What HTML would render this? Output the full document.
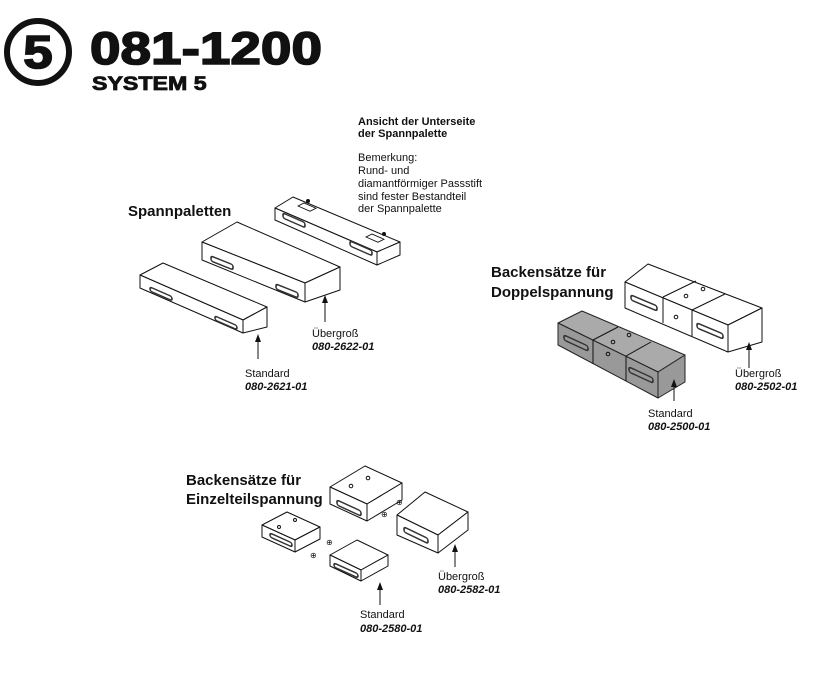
<!DOCTYPE html>
<html><head><meta charset="utf-8"><style>
html,body{margin:0;padding:0;background:#fff;}
svg{display:block;}
text{font-family:"Liberation Sans",Arial,sans-serif;fill:#111;}
.b{font-weight:bold;}
.bi{font-weight:bold;font-style:italic;}
.s{font-size:11px;}
.h{font-size:15px;font-weight:bold;}
.f{fill:#fff;stroke:#111;stroke-width:1;stroke-linejoin:round;}
.g{fill:#aaa;stroke:#222;stroke-width:1;stroke-linejoin:round;}
.g2{fill:#999;stroke:#222;stroke-width:1;stroke-linejoin:round;}
.sl{fill:none;stroke:#333;stroke-width:1.6;}
.ln{stroke:#111;stroke-width:1;fill:none;}
.hv{stroke:#111;stroke-width:1.6;}
</style></head><body>
<svg width="839" height="693" viewBox="0 0 839 693" xmlns="http://www.w3.org/2000/svg">
<!-- header -->
<circle cx="38" cy="52" r="31" fill="none" stroke="#111" stroke-width="6"/>
<text x="0" y="0" class="hv" transform="translate(38,68) scale(1.15,1)" text-anchor="middle" style="font-size:46px;font-weight:bold">5</text>
<text x="0" y="0" class="hv" transform="translate(90,64) scale(1.22,1)" style="font-size:45px;font-weight:bold">081-1200</text>
<text x="0" y="0" transform="translate(92,90) scale(1.22,1)" style="font-size:19px;font-weight:bold;stroke:#111;stroke-width:0.8">SYSTEM 5</text>

<!-- notes -->
<text x="358" y="125" class="s b">Ansicht der Unterseite</text>
<text x="358" y="137" class="s b">der Spannpalette</text>
<text x="358" y="161" class="s">Bemerkung:</text>
<text x="358" y="174" class="s">Rund- und</text>
<text x="358" y="187" class="s">diamantförmiger Passstift</text>
<text x="358" y="200" class="s">sind fester Bestandteil</text>
<text x="358" y="212" class="s">der Spannpalette</text>

<text x="128" y="216" class="h">Spannpaletten</text>

<!-- underside pallet -->
<polygon class="f" points="275,208 293,197 400,242 377,252"/>
<polygon class="f" points="275,208 377,252 377,265 275,220"/>
<polygon class="f" points="377,252 400,242 400,255 377,265"/>
<rect class="sl" x="0" y="0" width="22" height="5" rx="2" transform="matrix(1,0.437,0,1,283,213)"/>
<rect class="sl" x="0" y="0" width="22" height="5" rx="2" transform="matrix(1,0.437,0,1,350,241)"/>
<rect class="ln" x="0" y="0" width="12" height="6" transform="matrix(1,0.437,-1,0.5,304,203)" fill="#fff"/>
<rect class="ln" x="0" y="0" width="12" height="6" transform="matrix(1,0.437,-1,0.5,372,234)" fill="#fff"/>
<circle cx="308" cy="201" r="2" fill="#111"/><circle cx="384" cy="234" r="2" fill="#111"/>

<!-- overgrown pallet -->
<polygon class="f" points="202,242 237,222 340,267 305,283"/>
<polygon class="f" points="202,242 305,283 305,302 202,260"/>
<polygon class="f" points="305,283 340,267 340,290 305,302"/>
<rect class="sl" x="0" y="0" width="22" height="5" rx="2" transform="matrix(1,0.4,0,1,211,256)"/>
<rect class="sl" x="0" y="0" width="22" height="5" rx="2" transform="matrix(1,0.4,0,1,276,284)"/>

<!-- standard pallet -->
<polygon class="f" points="140,275 163,263 267,307 243,320"/>
<polygon class="f" points="140,275 243,320 243,333 140,288"/>
<polygon class="f" points="243,320 267,307 267,327 243,333"/>
<rect class="sl" x="0" y="0" width="22" height="4" rx="2" transform="matrix(1,0.437,0,1,150,287)"/>
<rect class="sl" x="0" y="0" width="22" height="4" rx="2" transform="matrix(1,0.437,0,1,215,316)"/>

<line class="ln" x1="325" y1="322" x2="325" y2="302"/><polygon points="322,303 325,295 328,303" fill="#111"/>
<text x="312" y="337" class="s">Übergroß</text>
<text x="312" y="350" class="s bi">080-2622-01</text>
<line class="ln" x1="258" y1="359" x2="258" y2="341"/><polygon points="255,342 258,334 261,342" fill="#111"/>
<text x="245" y="377" class="s">Standard</text>
<text x="245" y="390" class="s bi">080-2621-01</text>

<!-- Doppelspannung -->
<text x="491" y="277" class="h">Backensätze für</text>
<text x="491" y="297" class="h">Doppelspannung</text>

<!-- white set -->
<polygon class="f" points="625,282 648,264 762,308 728,325"/>
<polygon class="f" points="625,282 728,325 728,352 625,308"/>
<polygon class="f" points="728,325 762,308 762,342 728,352"/>
<line class="ln" x1="663" y1="297" x2="663" y2="323"/><line class="ln" x1="692" y1="310" x2="692" y2="336"/>
<line class="ln" x1="663" y1="297" x2="696" y2="281"/><line class="ln" x1="692" y1="310" x2="725" y2="294"/>
<rect class="sl" x="0" y="0" width="26" height="5" rx="2" transform="matrix(1,0.42,0,1,631,295)"/>
<rect class="sl" x="0" y="0" width="26" height="5" rx="2" transform="matrix(1,0.42,0,1,697,323)"/>
<circle cx="686" cy="296" r="1.8" fill="none" stroke="#111"/><circle cx="703" cy="289" r="1.8" fill="none" stroke="#111"/><circle cx="676" cy="317" r="1.8" fill="none" stroke="#111"/>

<!-- gray set -->
<polygon class="g" points="558,323 582,311 685,355 658,372"/>
<polygon class="g2" points="558,323 658,372 658,398 558,345"/>
<polygon class="g2" points="658,372 685,355 685,382 658,398"/>
<line class="ln" x1="593" y1="340" x2="593" y2="364"/><line class="ln" x1="626" y1="356" x2="626" y2="381"/>
<line class="ln" x1="593" y1="340" x2="618" y2="327"/><line class="ln" x1="626" y1="356" x2="651" y2="342"/>
<rect class="sl" x="0" y="0" width="24" height="5" rx="2" transform="matrix(1,0.46,0,1,564,335)"/>
<rect class="sl" x="0" y="0" width="24" height="5" rx="2" transform="matrix(1,0.46,0,1,629,367)"/>
<circle cx="613" cy="342" r="1.8" fill="none" stroke="#111"/><circle cx="629" cy="335" r="1.8" fill="none" stroke="#111"/><circle cx="608" cy="354" r="1.8" fill="none" stroke="#111"/>

<line class="ln" x1="749" y1="368" x2="749" y2="349"/><polygon points="746,350 749,342 752,350" fill="#111"/>
<text x="735" y="377" class="s">Übergroß</text>
<text x="735" y="390" class="s bi">080-2502-01</text>
<line class="ln" x1="674" y1="401" x2="674" y2="386"/><polygon points="671,387 674,379 677,387" fill="#111"/>
<text x="648" y="417" class="s">Standard</text>
<text x="648" y="430" class="s bi">080-2500-01</text>

<!-- Einzelteilspannung -->
<text x="186" y="485" class="h">Backensätze für</text>
<text x="186" y="504" class="h">Einzelteilspannung</text>

<!-- large top -->
<polygon class="f" points="330,487 365,466 402,483 367,504"/>
<polygon class="f" points="330,487 367,504 367,521 330,504"/>
<polygon class="f" points="367,504 402,483 402,500 367,521"/>
<rect class="sl" x="0" y="0" width="24" height="5" rx="2" transform="matrix(1,0.46,0,1,337,500)"/>
<circle cx="351" cy="486" r="1.8" fill="none" stroke="#111"/><circle cx="368" cy="478" r="1.8" fill="none" stroke="#111"/>
<!-- large right -->
<polygon class="f" points="397,515 425,492 468,512 438,535"/>
<polygon class="f" points="397,515 438,535 438,553 397,535"/>
<polygon class="f" points="438,535 468,512 468,530 438,553"/>
<rect class="sl" x="0" y="0" width="24" height="5" rx="2" transform="matrix(1,0.48,0,1,404,527)"/>
<!-- small left -->
<polygon class="f" points="262,525 287,512 320,527 295,540"/>
<polygon class="f" points="262,525 295,540 295,552 262,537"/>
<polygon class="f" points="295,540 320,527 320,539 295,552"/>
<rect class="sl" x="0" y="0" width="22" height="4" rx="2" transform="matrix(1,0.45,0,1,270,533)"/>
<circle cx="279" cy="527" r="1.5" fill="none" stroke="#111"/><circle cx="295" cy="520" r="1.5" fill="none" stroke="#111"/>
<!-- small bottom -->
<polygon class="f" points="330,555 357,540 388,555 361,570"/>
<polygon class="f" points="330,555 361,570 361,581 330,566"/>
<polygon class="f" points="361,570 388,555 388,566 361,581"/>
<rect class="sl" x="0" y="0" width="24" height="4" rx="2" transform="matrix(1,0.45,0,1,334,563)"/>
<!-- screws -->
<text x="381" y="517" style="font-size:8px">⊕</text><text x="396" y="505" style="font-size:8px">⊕</text>
<text x="310" y="558" style="font-size:8px">⊕</text><text x="326" y="545" style="font-size:8px">⊕</text>

<line class="ln" x1="455" y1="567" x2="455" y2="551"/><polygon points="452,552 455,544 458,552" fill="#111"/>
<text x="438" y="580" class="s">Übergroß</text>
<text x="438" y="593" class="s bi">080-2582-01</text>
<line class="ln" x1="380" y1="605" x2="380" y2="589"/><polygon points="377,590 380,582 383,590" fill="#111"/>
<text x="360" y="618" class="s">Standard</text>
<text x="360" y="632" class="s bi">080-2580-01</text>
</svg>
</body></html>
